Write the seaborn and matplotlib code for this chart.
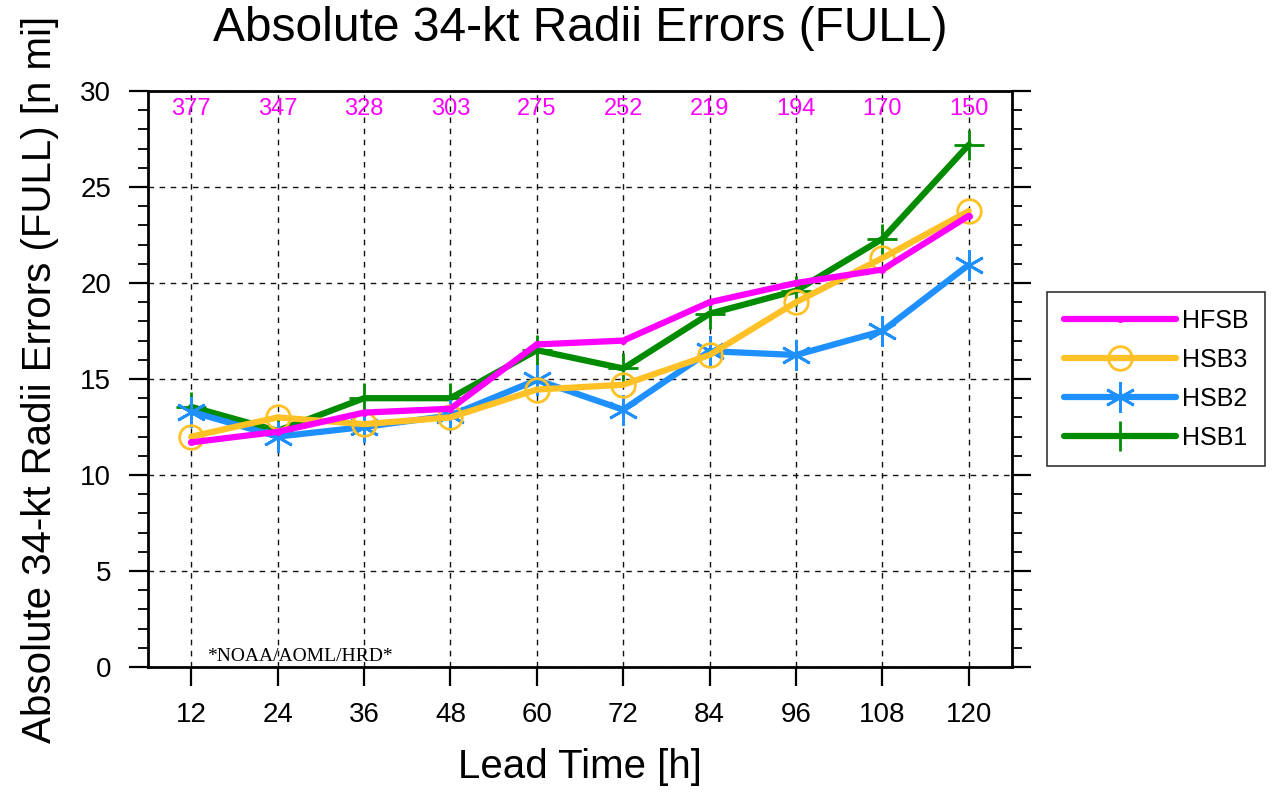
import numpy as np
import pandas as pd
import matplotlib
matplotlib.use("Agg")
import matplotlib.pyplot as plt
from matplotlib.ticker import MultipleLocator
import seaborn as sns

lead_time = [12, 24, 36, 48, 60, 72, 84, 96, 108, 120]
case_counts = [377, 347, 328, 303, 275, 252, 219, 194, 170, 150]

hfsb = [11.7, 12.25, 13.25, 13.45, 16.8, 17.0, 19.0, 20.0, 20.7, 23.5]
hsb3 = [12.0, 13.0, 12.65, 13.0, 14.45, 14.7, 16.25, 19.0, 21.3, 23.75]
hsb2 = [13.3, 12.0, 12.5, 13.1, 14.95, 13.4, 16.45, 16.25, 17.5, 20.95]
hsb1 = [13.55, 12.3, 14.0, 14.0, 16.5, 15.55, 18.4, 19.6, 22.3, 27.2]

sns.set_style("white")
plt.rcParams["font.family"] = ["Liberation Sans", "DejaVu Sans"]
plt.rcParams["text.color"] = "black"
plt.rcParams["axes.labelcolor"] = "black"
plt.rcParams["xtick.color"] = "black"
plt.rcParams["ytick.color"] = "black"

fig = plt.figure(figsize=(12.74, 7.92), dpi=100)
ax = fig.add_axes([148 / 1274, 1 - 667 / 792, (1012 - 148) / 1274, (667 - 91) / 792])

# drawn bottom to top: HSB1 first, HFSB last on top
series = [
    ("HSB1", hsb1, "#008B00", "+", 22),
    ("HSB2", hsb2, "#1E90FF", (6, 2, 0), 22),
    ("HSB3", hsb3, "#FFC125", "o", 17),
    ("HFSB", hfsb, "#FF00FF", "o", 3),
]
for name, vals, col, mk, ms in series:
    sns.lineplot(x=lead_time, y=vals, ax=ax, color=col, lw=4.5, marker=mk,
                 ms=ms, mfc="none", mec=col, mew=2.0, label=name,
                 solid_joinstyle="miter", solid_capstyle="round")

for lt, n in zip(lead_time, case_counts):
    ax.text(lt, 29.05, str(n), color="#FF00FF", fontsize=17,
            ha="center", va="center")

ax.text(0.068, 0.003, "*NOAA/AOML/HRD*", transform=ax.transAxes,
        family="Liberation Serif", fontsize=14, ha="left", va="bottom")

ax.set_xlim(6, 126)
ax.set_ylim(0, 30)
ax.set_xticks(lead_time)
ax.yaxis.set_major_locator(MultipleLocator(5))
ax.yaxis.set_minor_locator(MultipleLocator(1))
ax.grid(True, which="major", color="#111111", lw=1.0, ls=(0, (4, 4)))

for side in ["left", "right", "top", "bottom"]:
    ax.spines[side].set_visible(True)
    ax.spines[side].set_linewidth(2.0)
    ax.spines[side].set_color("black")

ax.tick_params(axis="y", which="major", direction="out", length=13.5, width=1.6,
               left=True, right=True, labelsize=20, pad=13)
ax.tick_params(axis="y", which="minor", direction="out", length=7, width=1.3,
               left=True, right=True)
ax.tick_params(axis="x", which="major", direction="out", length=13.5, width=1.6,
               bottom=True, top=False, labelsize=20, pad=12)

ax.set_xlabel("Lead Time [h]", fontsize=29, labelpad=14)
ax.set_ylabel("Absolute 34-kt Radii Errors (FULL) [n mi]", fontsize=29, labelpad=15)
ax.set_title("Absolute 34-kt Radii Errors (FULL)", fontsize=34.5, pad=36)

handles, labels = ax.get_legend_handles_labels()
leg = ax.legend(handles[::-1], labels[::-1], loc="upper left",
                bbox_to_anchor=(1047 / 1274, 1 - 292 / 792),
                bbox_transform=fig.transFigure, fontsize=18, frameon=True,
                fancybox=False, edgecolor="black", handlelength=4.5,
                handletextpad=0.25, labelspacing=0.6,
                borderpad=0.66, borderaxespad=0)
leg.get_frame().set_linewidth(1.2)

fig.savefig("out.png", dpi=100)
